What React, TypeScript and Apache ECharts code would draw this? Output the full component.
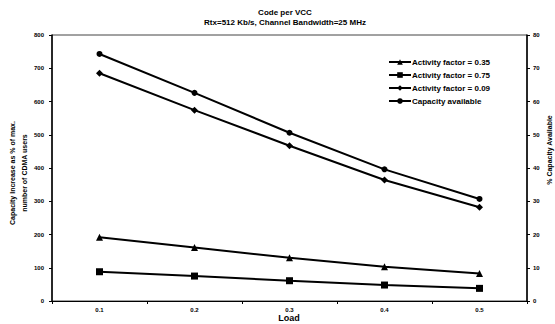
import React, { useEffect, useRef } from "react";
import * as echarts from "echarts";

const loads = ["0.1", "0.2", "0.3", "0.4", "0.5"];
const af035 = [192, 161, 130, 103, 83];
const af075 = [88, 75, 61, 48, 38];
const af009 = [685, 574, 467, 364, 282];
const capacityAvail = [74.3, 62.6, 50.6, 39.6, 30.7];

const FONT = "Liberation Sans, Arial, sans-serif";

export default function App() {
  const ref = useRef<HTMLDivElement>(null);
  useEffect(() => {
    const chart = echarts.init(ref.current!, null, { renderer: "svg" });
    const lineStyle = { color: "#000", width: 2 };
    const mk = (name: string, data: number[], symbol: string, size: number, yAxisIndex = 0) => ({
      name,
      type: "line",
      data,
      yAxisIndex,
      symbol,
      symbolSize: size,
      color: "#000",
      lineStyle,
      itemStyle: { color: "#000" },
    });
    chart.setOption({
      animation: false,
      textStyle: { fontFamily: FONT },
      title: {
        text: "Code per VCC",
        subtext: "Rtx=512 Kb/s, Channel Bandwidth=25 MHz",
        left: 280,
        textAlign: "center",
        top: 3,
        itemGap: 2,
        textStyle: { fontSize: 8, fontWeight: "bold", color: "#000", fontFamily: FONT },
        subtextStyle: { fontSize: 8, fontWeight: "bold", color: "#000", fontFamily: FONT },
      },
      legend: {
        orient: "vertical",
        left: 383,
        top: 53,
        itemWidth: 22,
        itemHeight: 7,
        itemGap: 5,
        textStyle: { fontSize: 8, fontWeight: "bold", color: "#000", fontFamily: FONT, padding: [0, 0, 0, -4] },
        data: ["Activity factor = 0.35", "Activity factor = 0.75", "Activity factor = 0.09", "Capacity available"],
      },
      grid: {
        left: 52,
        right: 28,
        top: 35,
        bottom: 23,
        show: true,
        borderColor: "#444",
        borderWidth: 1,
        containLabel: false,
        outerBoundsMode: "none",
      },
      xAxis: {
        type: "category",
        data: loads,
        boundaryGap: true,
        axisLine: { lineStyle: { color: "#000", width: 1 } },
        axisTick: { show: true, length: 3, lineStyle: { color: "#000" } },
        axisLabel: { fontSize: 6, fontWeight: "bold", color: "#000", margin: 5, lineHeight: 7 },
      },
      yAxis: [
        {
          type: "value",
          min: 0,
          max: 800,
          interval: 100,
          splitLine: { show: false },
          axisLine: { show: true, lineStyle: { color: "#000", width: 1.5 } },
          axisTick: { show: true, length: 3, lineStyle: { color: "#000" } },
          axisLabel: { fontSize: 6, fontWeight: "bold", color: "#000", margin: 8 },
        },
        {
          type: "value",
          min: 0,
          max: 80,
          interval: 10,
          position: "right",
          splitLine: { show: false },
          axisLine: { show: true, lineStyle: { color: "#000", width: 1.5 } },
          axisTick: { show: true, length: 3, lineStyle: { color: "#000" } },
          axisLabel: { fontSize: 6, fontWeight: "bold", color: "#000", margin: 6 },
        },
      ],
      graphic: [
        {
          type: "text",
          x: 289,
          y: 318,
          style: {
            text: "Load",
            fontSize: 9,
            fontWeight: "bold",
            fontFamily: FONT,
            fill: "#000",
            align: "center",
            verticalAlign: "middle",
          },
        },
        {
          type: "text",
          x: 18,
          y: 173,
          rotation: Math.PI / 2,
          style: {
            text: "Capacity Increase as % of max.\nnumber of CDMA users",
            fontSize: 7,
            fontWeight: "bold",
            fontFamily: FONT,
            fill: "#000",
            align: "center",
            verticalAlign: "middle",
            lineHeight: 12,
          },
        },
        {
          type: "text",
          x: 549,
          y: 150,
          rotation: Math.PI / 2,
          style: {
            text: "% Capacity Available",
            fontSize: 7,
            fontWeight: "bold",
            fontFamily: FONT,
            fill: "#000",
            align: "center",
            verticalAlign: "middle",
          },
        },
      ],
      series: [
        mk("Activity factor = 0.35", af035, "triangle", 7),
        mk("Activity factor = 0.75", af075, "rect", 7),
        mk("Activity factor = 0.09", af009, "diamond", 7),
        mk("Capacity available", capacityAvail, "circle", 6, 1),
      ],
    });
    return () => chart.dispose();
  }, []);
  return <div ref={ref} style={{ width: 555, height: 324, position: "absolute", left: 0, top: 0 }} />;
}
